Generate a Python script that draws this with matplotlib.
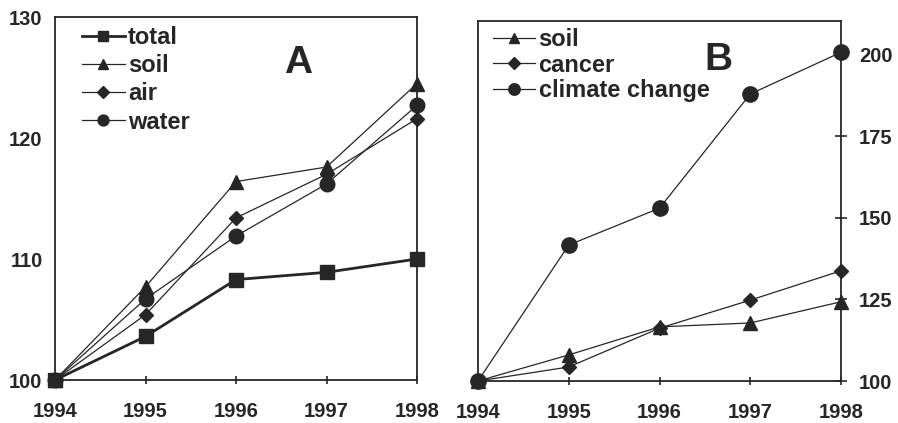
import matplotlib
matplotlib.use("Agg")
import matplotlib.pyplot as plt

# data
years = [1994, 1995, 1996, 1997, 1998]

# panel A (index, 1994 = 100)
total = [100, 103.6, 108.3, 108.9, 110.0]
soil = [100, 107.7, 116.4, 117.6, 124.5]
air = [100, 105.4, 113.4, 117.0, 121.6]
water = [100, 106.7, 111.9, 116.2, 122.7]

# panel B
soil_b = [100, 108.0, 116.6, 117.8, 124.3]
cancer = [100, 104.3, 116.2, 124.8, 133.8]
climate = [100, 141.7, 153.0, 188.0, 200.8]

ylim_a = (100, 130)
ylim_b = (100, 210.4)
yticks_a = [100, 110, 120, 130]
yticks_b = [100, 125, 150, 175, 200]

ink = "#262626"
plt.rcParams["font.family"] = ["Liberation Sans", "DejaVu Sans"]
plt.rcParams["font.weight"] = "bold"
plt.rcParams["text.color"] = ink
plt.rcParams["axes.edgecolor"] = ink
plt.rcParams["xtick.color"] = ink
plt.rcParams["ytick.color"] = ink

fig = plt.figure(figsize=(8.98, 4.23), dpi=100)
W, H = 898, 423
ax1 = fig.add_axes([55 / W, (H - 380) / H, (417 - 55) / W, (380 - 17) / H])
ax2 = fig.add_axes([478 / W, (H - 381) / H, (841 - 478) / W, (381 - 21) / H])

thin = dict(color=ink, lw=0.9, clip_on=False, zorder=3)

# panel A
ax1.plot(years, total, marker="s", ms=10.5, label="total", color=ink, lw=2.0,
         clip_on=False, zorder=4)
ax1.plot(years, soil, marker="^", ms=10.5, label="soil", **thin)
ax1.plot(years, air, marker="D", ms=7.5, label="air", **thin)
ax1.plot(years, water, marker="o", ms=10.5, label="water", **thin)
ax1.set_xlim(1994, 1998)
ax1.set_ylim(*ylim_a)
ax1.set_yticks(yticks_a)
ax1.set_xticks(years)
ax1.tick_params(axis="x", direction="inout", length=6, width=1.2,
                pad=12.5, labelsize=14.5)
ax1.tick_params(axis="y", length=0, pad=9, labelsize=14.5)
fig.text(298 / W, 1 - 63 / H, "A", fontsize=28, fontweight="bold",
         ha="center", va="center")
ax1.legend(loc="upper left", bbox_to_anchor=(0.075, 0.975), frameon=False,
           borderpad=0, borderaxespad=0, handlelength=1.8, handletextpad=0.15,
           labelspacing=0.22, markerscale=0.75, prop=dict(size=17, weight="bold"))

# panel B
ax2.plot(years, soil_b, marker="^", ms=10.5, label="soil", **thin)
ax2.plot(years, cancer, marker="D", ms=7.5, label="cancer", **thin)
ax2.plot(years, climate, marker="o", ms=11, label="climate change", **thin)
ax2.set_xlim(1994, 1998)
ax2.set_ylim(*ylim_b)
ax2.set_yticks(yticks_b)
ax2.set_xticks(years)
ax2.yaxis.tick_right()
ax2.tick_params(axis="x", direction="inout", length=6, width=1.2,
                pad=12.5, labelsize=14.5)
ax2.tick_params(axis="y", direction="inout", length=8, width=1.2,
                pad=9, labelsize=14.5)
fig.text(718 / W, 1 - 60 / H, "B", fontsize=28, fontweight="bold",
         ha="center", va="center")
ax2.legend(loc="upper left", bbox_to_anchor=(0.04, 0.98), frameon=False,
           borderpad=0, borderaxespad=0, handlelength=1.8, handletextpad=0.15,
           labelspacing=0.1, markerscale=0.75, prop=dict(size=17, weight="bold"))

for ax in (ax1, ax2):
    for sp in ax.spines.values():
        sp.set_linewidth(1.3)

fig.savefig("out.png", dpi=100)
